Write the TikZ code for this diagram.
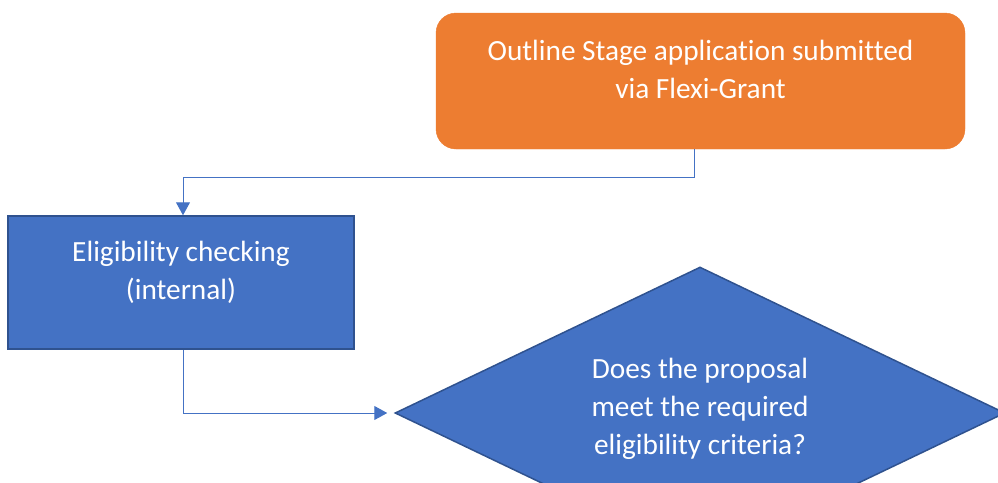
\documentclass[tikz,border=0pt]{standalone}
\usepackage{fontspec}
\setmainfont{Carlito}[Ligatures={NoCommon}]
\usetikzlibrary{shapes.geometric,arrows.meta}
\definecolor{orng}{HTML}{ED7D31}
\definecolor{bfill}{HTML}{4472C4}
\definecolor{bdraw}{HTML}{2F528F}
\tikzset{
  boxtext/.style={text=white, align=center, font=\fontsize{29.3}{38}\selectfont, inner sep=0pt},
  conn/.style={draw=bfill, line width=1pt, -{Triangle[length=13pt,width=14pt]}},
}
\begin{document}
\begin{tikzpicture}[x=1pt,y=-1pt]
\useasboundingbox (0,0) rectangle (998,482);
\node[fill=orng, draw=orng, rounded corners=20pt, minimum width=529pt, minimum height=136pt, inner sep=0pt] (sub) at (700.5,81) {};
\node[boxtext] (subtxt) at (700.5,69) {Outline Stage application submitted\\via Flexi-Grant};
\node[fill=bfill, draw=bdraw, line width=1.5pt, minimum width=346pt, minimum height=133pt, inner sep=0pt] (chk) at (181,282.5) {};
\node[boxtext] (chktxt) at (181,272.5) {Eligibility checking\\(internal)};
\node[diamond, fill=bfill, draw=bdraw, line width=1.5pt, minimum width=610pt, minimum height=292pt, inner sep=0pt] (dec) at (700,413) {};
\node[boxtext] (dectxt) at (700,409) {Does the proposal\\meet the required\\eligibility criteria?};
\draw[conn] ([xshift=-6.5pt]sub.south) -- ++(0,28) -| ([xshift=2pt]chk.north);
\draw[conn, shorten >=7pt] ([xshift=2pt]chk.south) |- (dec.west);
\end{tikzpicture}
\end{document}
